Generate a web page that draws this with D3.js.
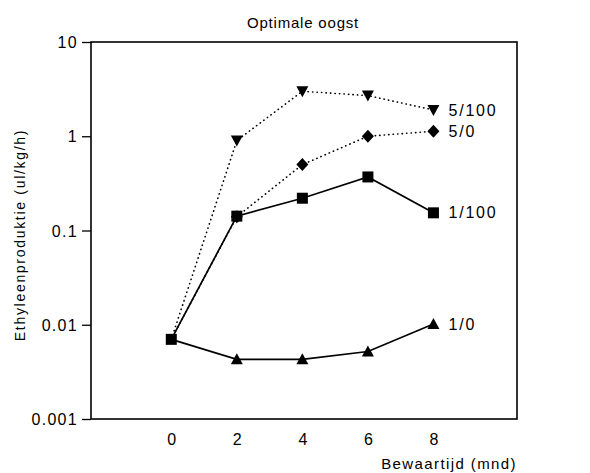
<!DOCTYPE html>
<html><head><meta charset="utf-8">
<script src="https://cdn.jsdelivr.net/npm/d3@7"></script>
<style>body{margin:0;background:#fff}svg{display:block}text{font-family:"Liberation Sans",Arial,sans-serif;fill:#000}</style>
</head><body><svg id="c" width="590" height="473"></svg>
<script>
const months = [0, 2, 4, 6, 8];
const s5_100 = [0.007, 0.9, 3.0, 2.7, 1.9];
const s5_0 = [0.007, 0.14, 0.5, 1.0, 1.13];
const s1_100 = [0.007, 0.142, 0.22, 0.37, 0.154];
const s1_0 = [0.007, 0.0043, 0.0043, 0.0052, 0.0102];
const seriesNames = ["5/100", "5/0", "1/100", "1/0"];
const seriesVals = [s5_100, s5_0, s1_100, s1_0];
const seriesDash = [true, true, false, false];
const seriesSym = ["tdown", "diamond", "square", "tup"];
const yTicks = [10, 1, 0.1, 0.01, 0.001];
const yTickLabels = ["10", "1", "0.1", "0.01", "0.001"];
const xTicks = [0, 2, 4, 6, 8];

const svg = d3.select("#c");
const L = 91, R = 517, T = 42, B = 419;
const x = d3.scaleLinear().domain([-2.45, 10.55]).range([L, R]);
const y = d3.scaleLog().domain([0.001, 10]).range([B, T]);

// frame
svg.append("rect").attr("x", L).attr("y", T).attr("width", R - L).attr("height", B - T)
  .attr("fill", "none").attr("stroke", "#000").attr("stroke-width", 1.6);

// y axis
const ya = svg.append("g").attr("transform", `translate(${L},0)`)
  .call(d3.axisLeft(y).tickValues(yTicks).tickFormat((d, i) => yTickLabels[i]).tickSize(9).tickPadding(4));
ya.select(".domain").remove();
ya.selectAll("line").attr("stroke", "#000").attr("stroke-width", 1.3);
ya.selectAll("text").attr("font-size", 16).attr("letter-spacing", 1.3).attr("dy", "0.35em");

// x axis (labels only)
const xa = svg.append("g").attr("transform", `translate(0,${B})`)
  .call(d3.axisBottom(x).tickValues(xTicks).tickSize(0).tickPadding(15));
xa.select(".domain").remove();
xa.selectAll("text").attr("font-size", 16);

// titles
svg.append("text").attr("x", 303).attr("y", 28).attr("text-anchor", "middle").attr("font-size", 15)
  .attr("letter-spacing", 0.8).text("Optimale oogst");
svg.append("text").attr("x", 517).attr("y", 469).attr("text-anchor", "end").attr("font-size", 15)
  .attr("letter-spacing", 1.4).text("Bewaartijd (mnd)");
svg.append("text").attr("transform", "translate(25,235) rotate(-90)").attr("text-anchor", "middle").attr("font-size", 14)
  .attr("letter-spacing", 1.7).text("Ethyleenproduktie (ul/kg/h)");

const line = d3.line().x((d, i) => x(months[i])).y(d => y(d));

// lines
seriesVals.forEach((vals, k) => {
  svg.append("path").attr("d", line(vals)).attr("fill", "none").attr("stroke", "#000")
    .attr("stroke-width", seriesDash[k] ? 1.6 : 1.7)
    .attr("stroke-dasharray", seriesDash[k] ? "0.3,4.2" : null)
    .attr("stroke-linecap", seriesDash[k] ? "round" : "butt");
});

function sym(g, type, cx, cy) {
  if (type === "square") g.append("rect").attr("x", cx - 5.5).attr("y", cy - 5.5).attr("width", 11).attr("height", 11);
  else if (type === "tup") g.append("path").attr("d", `M${cx},${cy - 6}L${cx + 6},${cy + 5}L${cx - 6},${cy + 5}Z`);
  else if (type === "tdown") g.append("path").attr("d", `M${cx - 6},${cy - 5}L${cx + 6},${cy - 5}L${cx},${cy + 6}Z`);
  else if (type === "diamond") g.append("path").attr("d", `M${cx},${cy - 6.5}L${cx + 6},${cy}L${cx},${cy + 6.5}L${cx - 6},${cy}Z`);
}

// markers (draw order so that square at 0 on top)
const order = [0, 1, 3, 2];
order.forEach(k => {
  const g = svg.append("g").attr("fill", "#000");
  seriesVals[k].forEach((v, i) => {
    if (i === 0 && k !== 2) return;
    sym(g, seriesSym[k], x(months[i]), y(v));
  });
});

// end labels
seriesVals.forEach((vals, k) => {
  svg.append("text").attr("x", x(8) + 15).attr("y", y(vals[4])).attr("dy", "0.35em")
    .attr("font-size", 16).attr("letter-spacing", 1.8).text(seriesNames[k]);
});
</script></body></html>
